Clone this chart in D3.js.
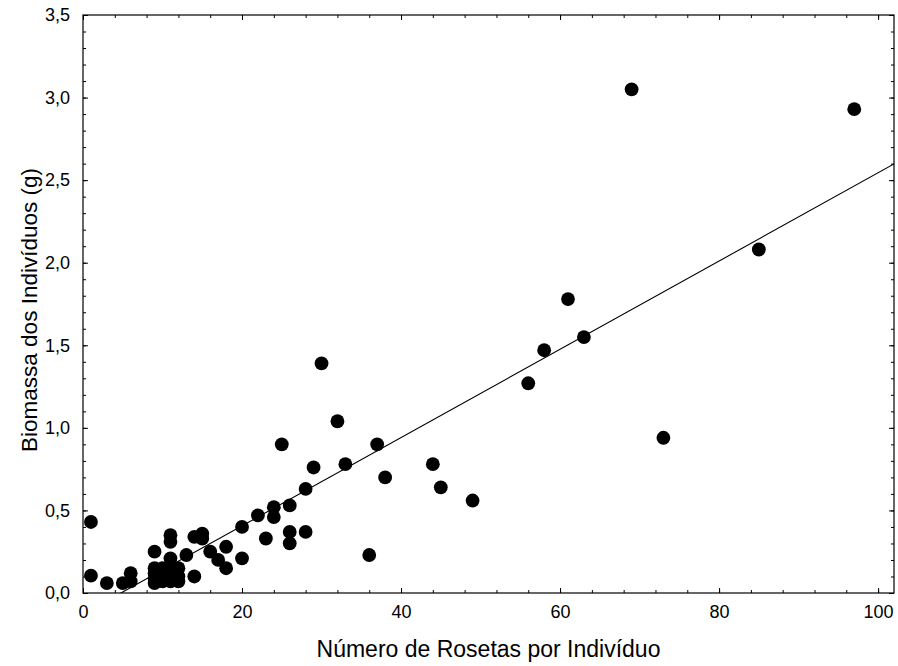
<!DOCTYPE html>
<html>
<head>
<meta charset="utf-8">
<script src="https://cdn.jsdelivr.net/npm/d3@7/dist/d3.min.js"></script>
<style>
  html, body { margin: 0; padding: 0; background: #fff; }
  svg text { font-family: "Liberation Sans", Arial, sans-serif; fill: #000; }
</style>
</head>
<body>
<svg id="chart" width="898" height="666"></svg>
<script>
// Number of rosettes per individual (x) and individual biomass in grams (y)
const rosetas = [
  1, 1, 3, 5, 6, 6,
  9, 9, 9, 9, 9, 10, 10, 10,
  11, 11, 11, 11, 11, 11, 12, 12, 12, 13,
  14, 14, 15, 15, 16, 17, 18, 18,
  20, 20, 22, 23, 24, 24, 25, 26, 26, 26,
  28, 28, 29, 30, 32, 33, 36, 37, 38,
  44, 45, 49, 56, 58, 61, 63, 69, 73, 85, 97
];
const biomassa = [
  0.43, 0.105, 0.06, 0.06, 0.12, 0.07,
  0.25, 0.15, 0.12, 0.09, 0.06, 0.15, 0.11, 0.07,
  0.35, 0.31, 0.21, 0.15, 0.11, 0.07, 0.15, 0.10, 0.07, 0.23,
  0.34, 0.10, 0.36, 0.33, 0.25, 0.20, 0.28, 0.15,
  0.40, 0.21, 0.47, 0.33, 0.52, 0.46, 0.90, 0.53, 0.37, 0.30,
  0.63, 0.37, 0.76, 1.39, 1.04, 0.78, 0.23, 0.90, 0.70,
  0.78, 0.64, 0.56, 1.27, 1.47, 1.78, 1.55, 3.05, 0.94, 2.08, 2.93
];

// Fitted linear trend: biomassa = intercept + slope * rosetas
const trendIntercept = -0.1275;
const trendSlope = 0.02672;

// Axis ticks
const xTicks = [0, 20, 40, 60, 80, 100];
const xMinorTicks = d3.range(0, 101, 4);
const yTicks = [0, 0.5, 1.0, 1.5, 2.0, 2.5, 3.0, 3.5];
const yMinorTicks = d3.range(0, 36).map(i => i / 10);

const xDomain = [0, 102];
const yDomain = [0, 3.5];

const svg = d3.select("#chart");
const plotLeft = 83, plotRight = 894, plotTop = 15, plotBottom = 593;

const x = d3.scaleLinear().domain(xDomain).range([plotLeft, plotRight]);
const y = d3.scaleLinear().domain(yDomain).range([plotBottom, plotTop]);

const commaFmt = d3.formatLocale({ decimal: ",", thousands: ".", grouping: [3], currency: ["", ""] });
const yFmt = commaFmt.format(".1f");
const xFmt = d3.format("d");

const majorLen = 5, minorLen = 3;

// Bottom axis (labels + inward ticks)
const gx = svg.append("g").attr("transform", `translate(0,${plotBottom})`);
gx.call(d3.axisBottom(x).tickValues(xMinorTicks).tickSize(-minorLen).tickFormat(""))
  .call(g => g.select(".domain").remove());
gx.append("g").call(d3.axisBottom(x).tickValues(xTicks).tickSize(-majorLen).tickPadding(12).tickFormat(xFmt))
  .call(g => g.select(".domain").remove())
  .call(g => g.selectAll("text").attr("font-size", 18).attr("dy", "0.71em"));

// Top axis (ticks only)
const gxt = svg.append("g").attr("transform", `translate(0,${plotTop})`);
gxt.call(d3.axisTop(x).tickValues(xMinorTicks).tickSize(-minorLen).tickFormat(""))
  .call(g => g.select(".domain").remove());
gxt.append("g").call(d3.axisTop(x).tickValues(xTicks).tickSize(-majorLen).tickFormat(""))
  .call(g => g.select(".domain").remove());

// Left axis (labels + inward ticks)
const gy = svg.append("g").attr("transform", `translate(${plotLeft},0)`);
gy.call(d3.axisLeft(y).tickValues(yMinorTicks).tickSize(-minorLen).tickFormat(""))
  .call(g => g.select(".domain").remove());
gy.append("g").call(d3.axisLeft(y).tickValues(yTicks).tickSize(-majorLen).tickPadding(13).tickFormat(yFmt))
  .call(g => g.select(".domain").remove())
  .call(g => g.selectAll("text").attr("font-size", 18));

// Right axis (ticks only)
const gyr = svg.append("g").attr("transform", `translate(${plotRight},0)`);
gyr.call(d3.axisRight(y).tickValues(yMinorTicks).tickSize(-minorLen).tickFormat(""))
  .call(g => g.select(".domain").remove());
gyr.append("g").call(d3.axisRight(y).tickValues(yTicks).tickSize(-majorLen).tickFormat(""))
  .call(g => g.select(".domain").remove());

svg.selectAll(".tick line").attr("stroke", "#000").attr("stroke-width", 1);

// Plot frame
svg.append("rect")
  .attr("x", plotLeft).attr("y", plotTop)
  .attr("width", plotRight - plotLeft).attr("height", plotBottom - plotTop)
  .attr("fill", "none").attr("stroke", "#000").attr("stroke-width", 1.2);

// Clip region for the trend line
svg.append("clipPath").attr("id", "plotClip")
  .append("rect").attr("x", plotLeft).attr("y", plotTop)
  .attr("width", plotRight - plotLeft).attr("height", plotBottom - plotTop);

const trend = xDomain.map(v => [v, trendIntercept + trendSlope * v]);
svg.append("path")
  .datum(trend)
  .attr("clip-path", "url(#plotClip)")
  .attr("fill", "none").attr("stroke", "#000").attr("stroke-width", 1.1)
  .attr("d", d3.line().x(d => x(d[0])).y(d => y(d[1])));

// Scatter points
svg.append("g").selectAll("circle")
  .data(rosetas.map((r, i) => [r, biomassa[i]]))
  .join("circle")
  .attr("cx", d => x(d[0]))
  .attr("cy", d => y(d[1]))
  .attr("r", 6.9)
  .attr("fill", "#000");

// Axis titles
svg.append("text")
  .attr("x", (plotLeft + plotRight) / 2).attr("y", 657)
  .attr("text-anchor", "middle").attr("font-size", 23)
  .text("Número de Rosetas por Indivíduo");

svg.append("text")
  .attr("transform", `translate(37,310) rotate(-90)`)
  .attr("text-anchor", "middle").attr("font-size", 22.5)
  .text("Biomassa dos Indivíduos (g)");
</script>
</body>
</html>
